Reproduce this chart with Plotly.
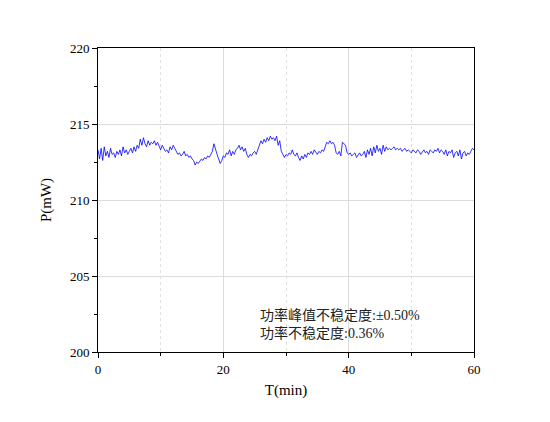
import plotly.graph_objects as go

step = 0.25
power = [
    213.3, 212.7, 213.4, 212.6, 213.5, 212.9, 213.2, 212.8, 213.4, 213.0, 213.1, 212.8, 213.2, 213.0, 213.3, 212.9, 213.5, 213.1, 213.3, 213.0,
    213.2, 213.4, 213.1, 213.5, 213.2, 213.6, 213.4, 214.0, 213.6, 214.1, 213.7, 213.5, 213.9, 213.6, 213.8, 213.7, 213.9, 213.6, 213.8, 213.5,
    213.3, 213.6, 213.4, 213.2, 213.3, 213.1, 213.5, 213.3, 213.6, 213.4, 213.2, 213.0, 213.1, 212.9, 213.0, 213.2, 212.9, 213.0, 212.8, 212.9,
    212.7, 212.6, 212.3, 212.5, 212.4, 212.6, 212.7, 212.6, 212.8, 212.7, 212.9, 212.8, 213.0, 213.2, 213.7, 213.3, 213.0, 212.7, 212.4, 212.6,
    212.9, 212.8, 213.1, 213.0, 213.3, 212.9, 213.2, 213.0, 213.3, 213.4, 213.6, 213.3, 213.5, 213.2, 213.4, 213.0, 212.8, 213.0, 212.9, 213.1,
    213.2, 213.0, 213.3, 213.6, 213.9, 213.7, 214.0, 213.8, 214.1, 213.9, 214.2, 214.0, 214.1, 213.9, 214.2, 213.6, 213.9, 213.2, 213.0, 212.8,
    213.0, 212.9, 213.1, 213.0, 213.3, 213.0, 212.9, 213.1, 212.8, 212.6, 212.9, 212.7, 213.0, 212.8, 213.1, 213.0, 213.2, 213.0, 213.3, 213.1,
    213.0, 213.2, 213.1, 213.3, 213.2, 213.5, 213.8, 213.7, 213.9, 213.7, 213.8, 213.6, 213.1, 213.0, 213.2, 212.9, 213.8, 213.7, 213.6, 213.1,
    213.0, 213.1, 212.9, 213.0, 213.1, 212.8, 213.0, 213.1, 212.9, 213.0, 213.2, 212.8, 213.3, 213.0, 213.4, 212.9, 213.5, 213.1, 213.6, 213.2,
    213.4, 213.0, 213.6, 213.2, 213.5, 213.3, 213.4, 213.3, 213.4, 213.5, 213.3, 213.4, 213.3, 213.4, 213.2, 213.3, 213.4, 213.2, 213.3, 213.2,
    213.1, 213.3, 213.2, 213.1, 213.3, 213.2, 213.0, 213.2, 213.3, 213.1, 213.2, 213.0, 213.3, 213.2, 213.1, 213.3, 213.2, 213.4, 213.1, 213.3,
    213.2, 213.0, 213.3, 212.9, 213.2, 213.1, 213.3, 212.8, 213.1, 213.2, 212.9, 213.3, 212.7, 213.1, 213.2, 212.9, 213.1, 213.0, 213.2, 213.4,
    213.3,
]
time_min = [i * step for i in range(len(power))]

x_title = "T(min)"
y_title = "P(mW)"
note_lines = ["功率峰值不稳定度:±0.50%", "功率不稳定度:0.36%"]

FONT = "Liberation Serif, Noto Sans CJK SC, serif"

fig = go.Figure()
fig.add_trace(go.Scatter(x=time_min, y=power, mode="lines",
                         line=dict(color="#0000ff", width=0.8), showlegend=False))

fig.add_annotation(x=25.6, y=203.1, xref="x", yref="y", xanchor="left", yanchor="top",
                   text="<br>".join(note_lines), showarrow=False, align="left",
                   font=dict(family=FONT, size=14, color="#222"))

axis_common = dict(showline=True, linecolor="black", linewidth=1, mirror=True,
                   ticks="outside", ticklen=5, tickcolor="black", zeroline=False,
                   showgrid=True, gridcolor="#dcdcdc", gridwidth=1,
                   tickfont=dict(family=FONT, size=13, color="black"))

fig.update_xaxes(range=[0, 60], dtick=20, tick0=0,
                 minor=dict(dtick=10, ticks="outside", ticklen=3, tickcolor="black",
                            showgrid=True, gridcolor="#e0e0e0", griddash="dot"),
                 title=dict(text=x_title, font=dict(family=FONT, size=15, color="black"), standoff=8),
                 **axis_common)
fig.update_yaxes(range=[200, 220], dtick=5, tick0=200,
                 minor=dict(dtick=2.5, ticks="outside", ticklen=3, tickcolor="black", showgrid=False),
                 title=dict(text=y_title, font=dict(family=FONT, size=15, color="black"), standoff=14),
                 **axis_common)

fig.update_layout(width=550, height=422, margin=dict(l=98, r=76, t=48, b=70),
                  plot_bgcolor="white", paper_bgcolor="white")

fig.write_html("out.html")
